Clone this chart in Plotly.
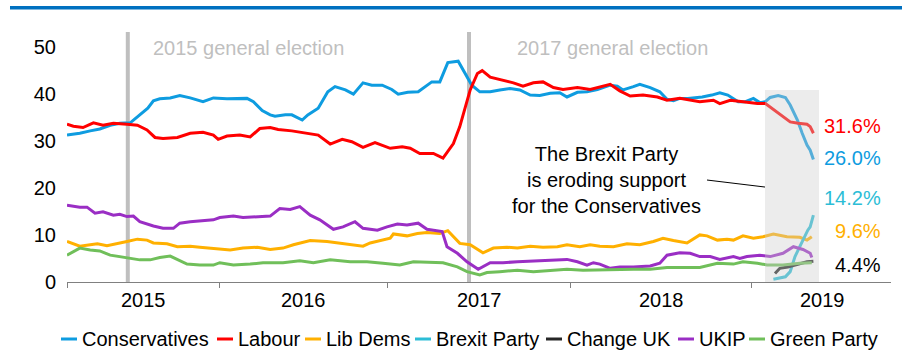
import plotly.graph_objects as go

# ---------------- data ----------------
SERIES_NAMES = ["Conservatives", "Labour", "Lib Dems", "Brexit Party",
                "Change UK", "UKIP", "Green Party"]
SERIES_COLORS = ["#0E9CE0", "#FF0000", "#FFB000", "#2CBDD6",
                 "#262626", "#9A2EC4", "#70BF5A"]

# poll period index (x) and vote share (%)
CON_T = [0, 1.6, 2.9, 4.1, 5.4, 6.6, 7.9, 9.1, 10.1, 10.8,
         11.6, 12.9, 14.1, 15.4, 17, 18.3, 20, 22.5, 23.3, 24.4,
         25.4, 26, 27.3, 28.1, 29.4, 30.1, 31.4, 32.6, 33.5, 34.8,
         35.8, 37, 38.1, 39.4, 40.6, 41.4, 42.6, 43.9, 44.8, 45.6,
         46.6, 47.6, 48.9, 49.8, 50.6, 51.6, 52.9, 54.1, 55.4, 56.6,
         57.9, 59.1, 60.4, 61.6, 62.5, 63.8, 65, 66.3, 67.9, 68.8,
         69.5, 70.8, 71.6, 72.9, 74.1, 75, 75.8, 76.6, 77.6, 79.4,
         80.6, 81.6, 82.6, 83.9, 84.8, 85.8, 86.6, 87.3, 87.9, 88.9,
         89.8, 90.4, 91.3, 91.9, 92.5, 92.9, 93.3]
CON_V = [31.2, 31.6, 32.1, 32.5, 33.3, 33.7, 33.8, 35.5, 36.9, 38.5,
         38.9, 39.1, 39.6, 39.1, 38.3, 39.1, 38.9, 39.0, 38.3, 36.4,
         35.5, 35.2, 35.5, 35.5, 34.4, 35.5, 36.9, 40.4, 41.5, 40.8,
         39.9, 42.3, 41.8, 41.8, 40.9, 39.9, 40.3, 40.4, 41.5, 42.5,
         42.5, 46.6, 46.9, 44.3, 41.8, 40.4, 40.4, 40.8, 41.1, 40.8,
         39.7, 39.6, 40.1, 40.2, 39.3, 40.3, 40.4, 40.9, 41.8, 41.6,
         40.8, 41.5, 42.0, 41.3, 40.4, 38.8, 38.5, 39.0, 39.0, 39.3,
         39.7, 40.2, 39.7, 38.3, 38.3, 39.0, 38.1, 38.3, 39.2, 39.6,
         39.2, 37.6, 34.4, 31.6, 29.1, 28.0, 26.0]

LAB_T = [0, 0.8, 2, 3.3, 4.5, 5.8, 7.5, 8.8, 10, 11,
         12, 13.8, 15.4, 17, 18.3, 18.9, 20, 21.6, 22.9, 24.1,
         25.4, 26.4, 28.1, 29.8, 31.4, 32.9, 34.4, 35.6, 37, 38.5,
         40.4, 41.9, 42.9, 44.1, 45.8, 47, 48.3, 49.1, 49.8, 50.4,
         51.3, 51.9, 52.9, 54.1, 55.8, 57, 58.3, 59.5, 60.8, 62,
         63.8, 65.4, 66.6, 67.9, 69.1, 70.4, 72, 73.8, 75, 76.6,
         79.1, 80.8, 81.6, 82.9, 84.5, 86.3, 87.3, 88.1, 89.4, 90.4,
         91.4, 92.5, 92.9, 93.3]
LAB_V = [33.5, 33.1, 32.8, 33.8, 33.3, 33.7, 33.5, 33.3, 32.3, 30.7,
         30.5, 30.7, 31.6, 31.8, 31.2, 30.3, 31.0, 31.2, 30.8, 32.6,
         32.8, 32.4, 32.1, 31.6, 31.2, 29.3, 30.3, 29.8, 28.6, 29.6,
         28.4, 28.7, 28.4, 27.3, 27.3, 26.3, 29.4, 33.0, 37.2, 40.8,
         44.3, 44.9, 43.5, 43.0, 42.3, 41.6, 42.3, 42.5, 41.3, 40.9,
         41.3, 40.9, 41.5, 42.0, 40.6, 39.5, 39.7, 39.3, 38.6, 39.0,
         38.3, 38.6, 37.9, 38.6, 38.3, 37.9, 37.9, 36.9, 35.1, 34.0,
         33.7, 33.5, 33.0, 31.6]

LD_T = [0, 1.6, 2.9, 3.8, 5, 6.3, 7.5, 8.8, 10, 10.8,
        12.5, 13.8, 15.4, 16.6, 18.3, 20.4, 22, 23.8, 25.4, 27,
        28.3, 29.1, 30.4, 32.5, 34.1, 35.8, 37, 37.9, 39.1, 40.4,
        40.8, 42.5, 43.8, 45, 46.6, 47.6, 49.1, 50.4, 52, 53.3,
        55, 56.3, 57.9, 59.5, 61.3, 62.5, 64.1, 65.4, 66.6, 68.3,
        70, 71.6, 73.3, 74.5, 75.8, 77.5, 79.1, 80, 81.3, 82.5,
        83.3, 84.5, 85.8, 87, 88.3, 90, 91.6, 92.5, 93.1]
LD_V = [8.6, 7.6, 7.9, 8.1, 7.7, 8.1, 8.6, 9.1, 8.9, 8.3,
        8.1, 7.5, 7.6, 7.4, 7.1, 6.8, 7.2, 7.4, 6.9, 7.2,
        7.9, 8.2, 8.8, 8.6, 8.2, 7.9, 7.6, 8.3, 8.8, 9.3,
        10.2, 9.8, 10.3, 10.5, 10.3, 10.9, 8.2, 7.9, 6.2, 7.2,
        7.4, 7.2, 7.6, 7.4, 7.5, 7.9, 7.5, 7.9, 7.6, 7.5,
        8.1, 7.9, 8.6, 9.3, 8.8, 8.3, 10.0, 9.8, 8.9, 9.1,
        8.9, 9.8, 9.3, 9.6, 10.2, 9.6, 9.5, 8.9, 9.6]

BXP_T = [88.3, 89.8, 90.4, 91, 91.6, 92.3, 92.6, 92.9, 93.3]
BXP_V = [0.6, 1.1, 2.2, 5.4, 7.5, 10.0, 11.0, 11.7, 14.2]

CUK_T = [88.5, 89.1, 90.1, 91.4, 92.5, 93.3]
CUK_V = [1.8, 2.9, 3.2, 3.8, 4.3, 4.4]

UKIP_T = [0, 1.6, 2.5, 3.5, 4.5, 5.8, 6.6, 7.5, 8.3, 9.1,
          10.8, 12, 13.3, 14.1, 15.4, 16.6, 18.3, 19.1, 20.8, 22,
          23.8, 25.4, 26.6, 27.9, 29.1, 30.4, 31.6, 33.3, 34.5, 36,
          37, 38.8, 40, 41.3, 42.5, 43.9, 45, 46.9, 47.5, 48.8,
          50, 51.4, 52.9, 54.5, 56.3, 58.3, 60.4, 62.5, 63.8, 65,
          65.8, 66.6, 67.9, 69.1, 70.8, 72.9, 74.1, 75, 76.6, 77.9,
          79.1, 80.4, 81.6, 83.3, 84.1, 85, 86.6, 87.9, 89.5, 90.8,
          92, 92.9, 93.1]
UKIP_V = [16.3, 15.9, 15.9, 14.6, 14.9, 14.2, 14.4, 13.9, 14.0, 12.8,
          11.9, 11.4, 11.4, 12.5, 12.8, 13.0, 13.2, 13.7, 14.0, 13.7,
          13.9, 14.0, 15.6, 15.4, 16.0, 14.2, 13.2, 11.2, 11.7, 12.8,
          11.4, 11.0, 11.7, 12.3, 12.1, 12.5, 11.2, 10.7, 7.5, 6.1,
          4.3, 2.7, 4.1, 4.1, 4.3, 4.5, 4.7, 4.8, 4.3, 3.6,
          4.1, 3.8, 2.9, 3.2, 3.2, 3.4, 4.0, 5.7, 6.2, 6.1,
          5.4, 5.4, 4.8, 5.4, 5.0, 5.4, 5.7, 5.4, 6.1, 7.5,
          6.9, 6.1, 5.2]

GRN_T = [0, 1.6, 2.9, 4.1, 5.4, 6.6, 7.9, 9.1, 10.4, 11.6,
         12.9, 13.8, 15, 16.6, 18.3, 19.1, 20.8, 22.9, 24.5, 27,
         29.1, 30.8, 32.9, 35.4, 37.5, 39.5, 41.6, 43.3, 45.4, 47,
         48.8, 50, 51.6, 52.5, 54.1, 56.3, 58.3, 60.4, 62.5, 64.5,
         66.6, 68.8, 70.8, 72.9, 75, 77, 79.1, 81.3, 83.3, 84.5,
         86.3, 87.5, 89.5, 91.6, 93.1]
GRN_V = [5.7, 7.2, 6.8, 6.6, 5.7, 5.4, 5.0, 4.7, 4.7, 5.2,
         5.5, 4.7, 3.8, 3.6, 3.6, 4.1, 3.6, 3.8, 4.1, 4.1,
         4.5, 4.1, 4.7, 4.3, 4.3, 4.0, 3.6, 4.3, 4.1, 4.1,
         3.2, 2.2, 1.5, 2.0, 2.2, 2.5, 2.2, 2.4, 2.7, 2.5,
         2.6, 2.7, 2.7, 2.7, 3.1, 3.1, 3.1, 4.0, 3.8, 4.3,
         4.0, 3.6, 3.6, 4.0, 4.1]

SERIES_T = [CON_T, LAB_T, LD_T, BXP_T, CUK_T, UKIP_T, GRN_T]
SERIES_V = [CON_V, LAB_V, LD_V, BXP_V, CUK_V, UKIP_V, GRN_V]

X_TICKS = [0, 19.1, 40.1, 62.9, 85.6]
YEAR_LABELS = ["2015", "2016", "2017", "2018", "2019"]
YEAR_LABEL_X = [9.5, 29.5, 51.5, 74.25, 94.4]
Y_TICKS = [0, 10, 20, 30, 40, 50]

ELECTION_X = [7.6, 50.25]
ELECTION_LABELS = ["2015 general election", "2017 general election"]
ELECTION_LABEL_X = [10.5, 56.0]

END_LABEL_VALUES = [31.6, 26.0, 14.2, 9.6, 4.4]
END_LABEL_COLORS = ["#FF0000", "#0E9CE0", "#2CBDD6", "#FFB000", "#000000"]
END_LABEL_Y = [33.1, 26.3, 17.8, 10.8, 3.6]

CALLOUT_TEXT = "The Brexit Party<br>is eroding support<br>for the Conservatives"
SHADE_X = [87.25, 94.0]
SHADE_TOP = 40.8

# ---------------- layout constants ----------------
W, H = 902, 350
ML, MR, MT, MB = 67, 11, 32, 68
PW = W - ML - MR
PH = H - MT - MB
X_RANGE = [0, 103]
Y_RANGE = [0, 53.1]
FONT = "Liberation Sans, Arial, sans-serif"


def px_to_paper_x(px):
    return (px - ML) / PW


def py_to_paper_y(py):
    return (H - MB - py) / PH


fig = go.Figure()
for name, col, t, v in zip(SERIES_NAMES, SERIES_COLORS, SERIES_T, SERIES_V):
    fig.add_trace(go.Scatter(x=t, y=v, mode="lines", name=name,
                             line=dict(color=col, width=3),
                             showlegend=False, hoverinfo="skip"))

shapes = []
annotations = []

# top blue bar
shapes.append(dict(type="rect", xref="paper", yref="paper",
                   x0=px_to_paper_x(10), x1=px_to_paper_x(902),
                   y0=py_to_paper_y(9.5), y1=py_to_paper_y(6),
                   fillcolor="#0070C0", line=dict(width=0)))

# election lines and labels
for ex, lab, lx in zip(ELECTION_X, ELECTION_LABELS, ELECTION_LABEL_X):
    shapes.append(dict(type="line", xref="x", yref="paper", x0=ex, x1=ex,
                       y0=0, y1=1, line=dict(color="#BFBFBF", width=4),
                       layer="below"))
    annotations.append(dict(x=lx, y=py_to_paper_y(48), xref="x", yref="paper",
                            text=lab, showarrow=False, xanchor="left",
                            yanchor="middle",
                            font=dict(size=20, color="#BFBFBF", family=FONT)))

# shaded recent period
shapes.append(dict(type="rect", xref="x", yref="y",
                   x0=SHADE_X[0], x1=SHADE_X[1], y0=0, y1=SHADE_TOP,
                   fillcolor="rgba(206,206,206,0.38)", line=dict(width=0),
                   layer="above"))

# callout
annotations.append(dict(x=67.4, y=21.7, xref="x", yref="y", text=CALLOUT_TEXT,
                        showarrow=False, xanchor="center", yanchor="middle",
                        align="center",
                        font=dict(size=20, color="#000000", family=FONT)))
shapes.append(dict(type="line", xref="x", yref="y", x0=80.0, y0=21.66,
                   x1=SHADE_X[0], y1=20.17,
                   line=dict(color="#000000", width=1)))

# end labels
for val, col, yy in zip(END_LABEL_VALUES, END_LABEL_COLORS, END_LABEL_Y):
    annotations.append(dict(x=102, y=yy, xref="x", yref="y",
                            text=f"{val:.1f}%", showarrow=False,
                            xanchor="right", yanchor="middle",
                            font=dict(size=20, color=col, family=FONT)))

# year labels between ticks
for lab, lx in zip(YEAR_LABELS, YEAR_LABEL_X):
    annotations.append(dict(x=lx, y=py_to_paper_y(300), xref="x", yref="paper",
                            text=lab, showarrow=False, xanchor="center",
                            yanchor="middle",
                            font=dict(size=20, color="#000000", family=FONT)))

# manual legend
LEGEND_PX = [61, 217, 305, 415, 546, 678, 749]
ly = py_to_paper_y(339)
for name, col, lpx in zip(SERIES_NAMES, SERIES_COLORS, LEGEND_PX):
    shapes.append(dict(type="line", xref="paper", yref="paper",
                       x0=px_to_paper_x(lpx), x1=px_to_paper_x(lpx + 16),
                       y0=ly, y1=ly, line=dict(color=col, width=3)))
    annotations.append(dict(x=px_to_paper_x(lpx + 19), y=ly, xref="paper",
                            yref="paper", text=name, showarrow=False,
                            xanchor="left", yanchor="middle",
                            font=dict(size=20, color="#000000", family=FONT)))

fig.update_layout(
    width=W, height=H,
    margin=dict(l=ML, r=MR, t=MT, b=MB),
    paper_bgcolor="white", plot_bgcolor="white",
    font=dict(family=FONT, size=20, color="#000000"),
    showlegend=False,
    shapes=shapes, annotations=annotations,
    xaxis=dict(range=X_RANGE, tickvals=X_TICKS, ticktext=[""] * len(X_TICKS),
               ticks="outside", ticklen=5, tickcolor="#808080",
               showline=True, linecolor="#808080", linewidth=1,
               showgrid=False, zeroline=False, fixedrange=True),
    yaxis=dict(range=Y_RANGE, tickvals=Y_TICKS, ticks="",
               showline=False, showgrid=False, zeroline=False,
               ticklabelstandoff=10, tickfont=dict(size=20),
               fixedrange=True),
)

fig.write_html("out.html")
